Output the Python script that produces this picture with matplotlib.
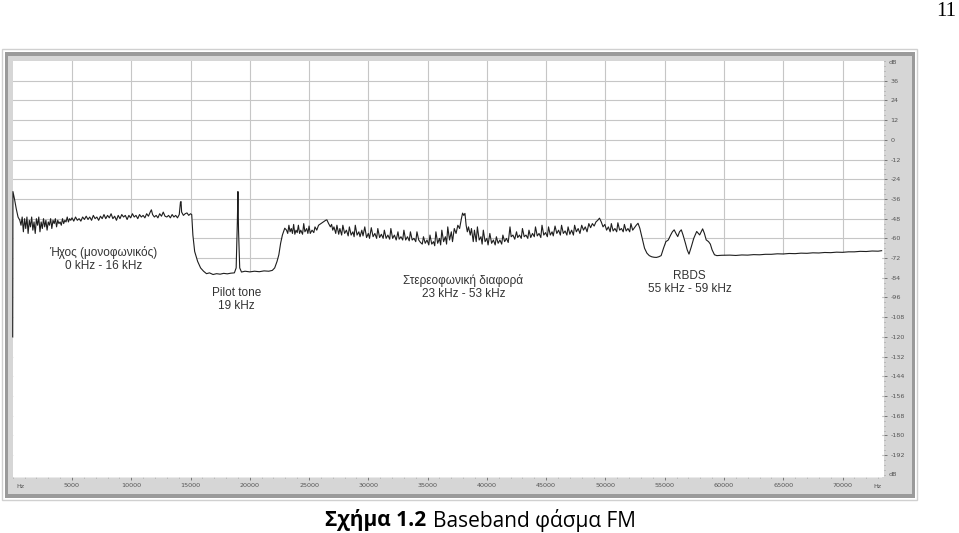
"""
Baseband FM spectrum (screenshot-style recreation).
"""
import matplotlib
matplotlib.use("Agg")
import matplotlib.pyplot as plt
from matplotlib.patches import Rectangle
from matplotlib.ticker import MultipleLocator

# spectrum: (frequency kHz, level dB)
mono_band = [
    (0.00, -120), (0.02, -31.5), (0.15, -36), (0.3, -42), (0.45, -47), (0.6, -49),
    (0.7, -52), (0.8, -47), (0.9, -56), (1.0, -48), (1.1, -54), (1.2, -47), (1.3, -57),
    (1.4, -49), (1.5, -53), (1.6, -47), (1.7, -55), (1.8, -50), (1.9, -57), (2.0, -48),
    (2.1, -52), (2.2, -47), (2.3, -56), (2.4, -50), (2.5, -54), (2.6, -48), (2.7, -53),
    (2.8, -49), (2.9, -55), (3.0, -50), (3.1, -52), (3.2, -48), (3.3, -54), (3.4, -49),
    (3.5, -51), (3.6, -48), (3.7, -53), (3.8, -49), (3.9, -51), (4.0, -50), (4.1, -52),
    (4.2, -48), (4.3, -51), (4.4, -49), (4.5, -50), (4.6, -47), (4.7, -50), (4.8, -48),
    (4.9, -49), (5.0, -47.5), (5.15, -49.5), (5.3, -47), (5.45, -49), (5.6, -48),
    (5.75, -49.5), (5.9, -47), (6.05, -48.5), (6.2, -46.5), (6.35, -48.5), (6.5, -47),
    (6.65, -49), (6.8, -46), (6.95, -48), (7.1, -47), (7.25, -49), (7.4, -46.5),
    (7.55, -48), (7.7, -45.5), (7.85, -48), (8.0, -46), (8.15, -47.5), (8.3, -45),
    (8.45, -48), (8.6, -46.5), (8.75, -49), (8.9, -46), (9.05, -48), (9.2, -45.5),
    (9.35, -47), (9.5, -46), (9.65, -48.5), (9.8, -46), (9.95, -47.5), (10.1, -45),
    (10.25, -47), (10.4, -46), (10.55, -48), (10.7, -45.5), (10.85, -47), (11.0, -46),
    (11.15, -47.5), (11.3, -45), (11.45, -46.5), (11.6, -44), (11.7, -42.6), (11.8, -45.5),
    (11.95, -47), (12.1, -46), (12.25, -47.5), (12.4, -45), (12.55, -46.5), (12.7, -44),
    (12.85, -46.5), (13.0, -47), (13.15, -46), (13.3, -47.5), (13.45, -45.5), (13.6, -47),
    (13.75, -46), (13.9, -47.5), (14.05, -45.5), (14.15, -38), (14.2, -37.6), (14.25, -44),
    (14.4, -46), (14.55, -45), (14.7, -44.5), (14.85, -46), (15.0, -45), (15.1, -45.5),
]

pilot_gap = [
    (15.2, -58), (15.35, -68), (15.6, -74), (15.85, -78), (16.1, -80), (16.35, -81.5),
    (16.6, -81), (16.9, -82), (17.2, -81.5), (17.5, -81.8), (17.8, -81.3), (18.1, -81.6),
    (18.4, -81.2), (18.7, -81), (18.85, -78), (18.95, -50), (19.0, -31.5), (19.05, -55),
    (19.15, -78), (19.3, -80.5), (19.6, -80), (20.0, -80.4), (20.4, -80), (20.8, -80.3),
    (21.2, -79.8), (21.6, -80), (21.9, -79.5), (22.1, -78), (22.3, -74), (22.45, -70),
    (22.6, -63), (22.75, -58), (22.95, -53.8),
]

stereo_band = [
    (23.1, -55), (23.2, -57), (23.3, -52), (23.4, -56), (23.5, -54), (23.6, -57),
    (23.7, -51.5), (23.8, -57.5), (23.9, -55), (24.0, -56.5), (24.1, -52), (24.2, -57),
    (24.3, -55), (24.45, -57.5), (24.55, -51), (24.65, -56), (24.8, -54), (24.9, -57),
    (25.0, -52.5), (25.1, -57), (25.25, -55), (25.4, -56.5), (25.5, -53), (25.65, -55),
    (25.8, -52), (26.0, -51), (26.2, -50), (26.4, -49), (26.5, -48.7), (26.65, -51),
    (26.8, -53), (26.9, -51.5), (27.0, -55), (27.1, -53), (27.25, -57), (27.35, -52),
    (27.5, -57.5), (27.6, -54), (27.75, -58), (27.85, -52), (28.0, -57), (28.15, -55),
    (28.3, -58.5), (28.4, -53), (28.55, -58), (28.7, -56), (28.8, -59), (28.9, -52),
    (29.05, -58), (29.2, -56), (29.3, -59), (29.45, -55), (29.55, -58.5), (29.7, -53),
    (29.85, -59.5), (30.0, -57), (30.1, -60), (30.25, -53.5), (30.4, -59), (30.55, -57),
    (30.7, -60), (30.8, -54), (30.95, -59.5), (31.1, -57.5), (31.25, -60), (31.35, -55),
    (31.5, -60), (31.65, -58), (31.8, -60.5), (31.9, -54), (32.05, -60), (32.2, -58),
    (32.35, -61), (32.5, -56), (32.6, -60.5), (32.75, -59), (32.9, -61), (33.0, -55),
    (33.15, -61), (33.3, -59), (33.45, -61.5), (33.55, -56), (33.7, -61), (33.85, -60),
    (34.0, -62), (34.1, -56), (34.25, -61), (34.4, -62.5), (34.55, -63.5), (34.65, -59),
    (34.8, -63), (34.95, -61), (35.1, -64), (35.2, -58), (35.35, -63.5), (35.5, -62),
    (35.6, -64.5), (35.7, -56), (35.85, -63), (36.0, -60), (36.1, -64), (36.2, -55),
    (36.35, -62), (36.5, -59), (36.6, -63.5), (36.7, -53), (36.85, -61), (37.0, -56),
    (37.1, -62), (37.25, -54), (37.4, -57), (37.55, -52), (37.7, -54), (37.85, -48),
    (37.95, -44.6), (38.05, -46), (38.15, -44.8), (38.25, -52), (38.35, -56), (38.45, -53),
    (38.6, -58), (38.7, -54), (38.85, -62), (38.95, -55), (39.1, -62), (39.2, -53),
    (39.35, -61), (39.5, -59), (39.6, -63.5), (39.7, -55), (39.85, -62), (40.0, -60),
    (40.1, -64), (40.25, -57), (40.4, -63), (40.55, -61), (40.7, -64), (40.8, -59),
    (40.95, -63), (41.1, -61), (41.25, -63.5), (41.35, -58), (41.5, -62), (41.65, -60),
    (41.8, -62.5), (41.95, -53), (42.05, -59), (42.2, -58), (42.35, -60.5), (42.5, -56),
    (42.6, -59.5), (42.75, -58), (42.9, -60), (43.0, -54), (43.15, -59), (43.3, -58),
    (43.45, -60), (43.55, -55), (43.7, -59.5), (43.85, -57), (44.0, -59), (44.1, -53),
    (44.25, -58.5), (44.4, -57), (44.55, -59.5), (44.65, -52), (44.8, -58), (44.95, -56.5),
    (45.1, -59), (45.2, -53), (45.35, -58), (45.5, -56), (45.6, -58.5), (45.75, -52.5),
    (45.9, -57), (46.05, -55), (46.2, -58), (46.3, -52), (46.45, -57), (46.6, -55.5),
    (46.75, -58), (46.85, -53), (47.0, -57.5), (47.15, -55), (47.3, -58), (47.4, -52),
    (47.55, -56), (47.7, -54), (47.85, -57), (48.0, -52), (48.15, -55), (48.3, -53),
    (48.45, -56), (48.6, -51), (48.75, -53.5), (48.9, -51), (49.05, -52.5), (49.2, -50),
    (49.35, -49), (49.5, -47.7), (49.65, -50), (49.8, -53), (49.95, -51.5), (50.1, -55),
    (50.25, -53), (50.4, -56), (50.5, -51), (50.65, -55.5), (50.8, -54), (50.95, -56),
    (51.05, -50.5), (51.2, -55), (51.35, -54), (51.5, -56), (51.6, -51.5), (51.75, -55.5),
    (51.9, -54), (52.05, -56), (52.15, -51), (52.3, -55), (52.45, -53.5), (52.6, -52),
    (52.75, -50.8), (52.9, -53.8),
]

rbds_band = [
    (53.1, -60), (53.3, -66), (53.5, -69), (53.7, -70.5), (53.9, -71.2), (54.1, -71.5),
    (54.3, -71.6), (54.5, -71.2), (54.7, -70.5), (54.9, -66), (55.1, -62), (55.3, -61),
    (55.5, -58), (55.65, -56), (55.8, -54.8), (55.95, -57), (56.1, -58.9), (56.25, -56),
    (56.4, -54.8), (56.55, -58), (56.75, -63), (56.9, -67), (57.05, -69.6), (57.25, -65),
    (57.45, -60), (57.7, -55.8), (57.95, -57.9), (58.2, -54.2), (58.35, -57), (58.5, -60.9),
    (58.7, -62), (58.85, -63.5), (59.0, -67), (59.2, -70), (59.4, -70.5),
]

upper_tail = [
    (59.8, -70.3), (60.5, -70.2), (61.0, -70.4), (61.5, -70.1), (62.0, -70.2), (62.5, -69.9),
    (63.0, -70.0), (63.5, -69.7), (64.0, -69.7), (64.5, -69.4), (65.0, -69.5), (65.5, -69.2),
    (66.0, -69.3), (66.5, -69.0), (67.0, -69.1), (67.5, -68.8), (68.0, -68.9), (68.5, -68.6),
    (69.0, -68.7), (69.5, -68.4), (70.0, -68.5), (70.5, -68.2), (71.0, -68.2), (71.5, -67.9),
    (72.0, -68.0), (72.5, -67.7), (73.0, -67.8), (73.3, -67.5),
]

x_ticks_hz = list(range(5000, 70001, 5000))
y_ticks_db = list(range(-192, 37, 12))

band_labels = [
    ("Ήχος (μονοφωνικός)\n0 kHz - 16 kHz", 103.5, 259),
    ("Pilot tone\n19 kHz", 236.5, 299.5),
    ("Στερεοφωνική διαφορά\n23 kHz - 53 kHz", 463.5, 287),
    ("RBDS\n55 kHz - 59 kHz", 689.5, 282.5),
]


def main():
    W, H = 959, 533
    fig = plt.figure(figsize=(W / 100, H / 100), dpi=100)
    fig.patch.set_facecolor("white")

    # pixel-space background axes for the window frame
    bg = fig.add_axes([0, 0, 1, 1])
    bg.set_xlim(0, W)
    bg.set_ylim(H, 0)
    bg.axis("off")
    px = bg.transData

    bg.add_patch(Rectangle((2, 49), 915, 451, fill=False, ec="#d0d0d0", lw=1))
    bg.add_patch(Rectangle((5, 52), 910, 446, fc="#9a9a9a", ec="none"))
    bg.add_patch(Rectangle((8, 56), 904, 438, fc="#d6d6d6", ec="none"))

    left, right, top, bottom = 12.7, 884, 61, 477
    ax = fig.add_axes([left / W, 1 - bottom / H, (right - left) / W, (bottom - top) / H])
    ax.set_facecolor("white")
    ax.set_xlim(0, 73500)
    ax.set_ylim(-205.3, 48)

    spectrum = mono_band + pilot_gap + stereo_band + rbds_band + upper_tail
    freq = [f * 1000 for f, _ in spectrum]
    level = [d for _, d in spectrum]

    # the area under the trace is blanked, so the grid only shows above it
    ax.fill_between(freq, level, -205.3, color="white", lw=0, zorder=1.5)
    ax.plot(freq, level, color="#1e1e1e", lw=0.8, zorder=2, clip_on=False)

    ax.set_xticks(x_ticks_hz)
    ax.set_xticklabels([str(v) for v in x_ticks_hz])
    ax.xaxis.set_minor_locator(MultipleLocator(1000))
    ax.yaxis.tick_right()
    ax.set_yticks(y_ticks_db)
    ax.set_yticklabels([str(v) for v in y_ticks_db])
    ax.yaxis.set_minor_locator(MultipleLocator(3))

    ax.set_axisbelow(True)
    ax.grid(True, which="major", color="#c6c6c6", lw=0.8)
    for s in ax.spines.values():
        s.set_visible(False)

    ax.tick_params(axis="both", which="major", length=2, width=0.6, color="#666",
                   labelsize=4.6, labelcolor="#555", pad=2.5)
    ax.tick_params(axis="both", which="minor", length=1, width=0.5, color="#888")
    ax.tick_params(axis="y", which="both", left=False, right=True)

    small = dict(transform=px, fontsize=4.6, color="#555", va="center")
    fig.text(16, 487, "Hz", ha="left", **small)
    fig.text(877, 487, "Hz", ha="center", **small)
    fig.text(889, 63, "dB", ha="left", **small)
    fig.text(889, 475, "dB", ha="left", **small)

    for text, x, y in band_labels:
        fig.text(x, y, text, transform=px, ha="center", va="center", fontsize=8.5,
                 color="#333", family="Liberation Sans", linespacing=1.15)

    fig.text(956, 11, "11", transform=px, ha="right", va="center", fontsize=15,
             family="Liberation Serif")
    fig.text(325, 520, "Σχήμα 1.2", transform=px, ha="left", va="center", fontsize=15,
             weight="bold", family="Open Sans")
    fig.text(433, 520, "Baseband φάσμα FM", transform=px, ha="left", va="center",
             fontsize=15, family="Open Sans")

    fig.savefig("out.png", dpi=100, facecolor="white")
    plt.close(fig)


if __name__ == "__main__":
    main()
